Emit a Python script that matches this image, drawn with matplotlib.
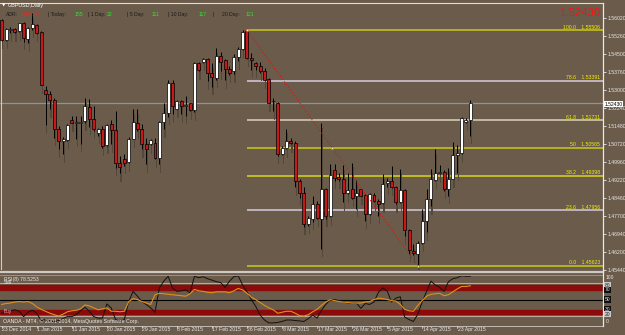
import matplotlib
matplotlib.use('Agg')
import matplotlib.pyplot as plt
from matplotlib.patches import Rectangle
from matplotlib.lines import Line2D

W, H = 625, 335
BG = '#6b5b4a'
FONT = 'Liberation Sans'

# ---------------- data ----------------
opens = [1.5594, 1.5510, 1.5551, 1.5555, 1.5549, 1.5580, 1.5514, 1.5559, 1.5573, 1.5541,
         1.5298, 1.5284, 1.5259, 1.5137, 1.5085, 1.5089, 1.5173, 1.5162, 1.5162, 1.5169,
         1.5229, 1.5179, 1.5120, 1.5137, 1.5067, 1.5155, 1.5131, 1.4992, 1.5009, 1.4996,
         1.5095, 1.5162, 1.5137, 1.5071, 1.5075, 1.5078, 1.5016, 1.5164, 1.5204, 1.5329,
         1.5220, 1.5252, 1.5231, 1.5243, 1.5215, 1.5413, 1.5419, 1.5429, 1.5373, 1.5350,
         1.5443, 1.5424, 1.5388, 1.5378, 1.5440, 1.5471, 1.5548, 1.5434, 1.5415, 1.5399,
         1.5378, 1.5346, 1.5252, 1.5246, 1.5029, 1.5057, 1.5085, 1.5078, 1.4918, 1.4869,
         1.4737, 1.4758, 1.4820, 1.4758, 1.4886, 1.4769, 1.4964, 1.4934, 1.4925, 1.4869,
         1.4883, 1.4853, 1.4883, 1.4858, 1.4779, 1.4858, 1.4834, 1.4825, 1.4908, 1.4918,
         1.4894, 1.4828, 1.4880, 1.4713, 1.4625, 1.4611, 1.4657, 1.4751, 1.4841, 1.4922,
         1.4950, 1.4955, 1.4883, 1.4928, 1.5025, 1.5034, 1.5166, 1.5172]
highs = [1.5598, 1.5559, 1.5566, 1.5559, 1.5582, 1.5587, 1.5566, 1.5623, 1.5577, 1.5548,
         1.5315, 1.5294, 1.5266, 1.5148, 1.5101, 1.5155, 1.5190, 1.5190, 1.5190, 1.5266,
         1.5262, 1.5231, 1.5141, 1.5148, 1.5155, 1.5172, 1.5210, 1.5021, 1.5029, 1.5103,
         1.5220, 1.5218, 1.5155, 1.5099, 1.5092, 1.5099, 1.5169, 1.5246, 1.5343, 1.5343,
         1.5259, 1.5259, 1.5273, 1.5246, 1.5419, 1.5419, 1.5434, 1.5434, 1.5413, 1.5475,
         1.5461, 1.5429, 1.5401, 1.5450, 1.5480, 1.5550, 1.55506, 1.5455, 1.5419, 1.5419,
         1.5392, 1.5350, 1.5266, 1.5249, 1.5064, 1.5137, 1.5099, 1.5085, 1.4925, 1.4891,
         1.4772, 1.4855, 1.4834, 1.5162, 1.4890, 1.4988, 1.4988, 1.4950, 1.4983, 1.4953,
         1.4995, 1.4922, 1.4886, 1.4862, 1.4869, 1.4866, 1.4841, 1.4946, 1.4932, 1.4981,
         1.4897, 1.4970, 1.4886, 1.4716, 1.4653, 1.4667, 1.4800, 1.4883, 1.4970, 1.5050,
         1.4983, 1.4964, 1.4974, 1.5081, 1.5067, 1.5187, 1.5184, 1.5259]
lows = [1.5506, 1.5507, 1.5538, 1.5538, 1.5541, 1.5503, 1.5496, 1.5552, 1.5535, 1.5319,
        1.5151, 1.5218, 1.5099, 1.5050, 1.5029, 1.5085, 1.5159, 1.5095, 1.5075, 1.5162,
        1.5145, 1.5127, 1.5106, 1.5057, 1.5064, 1.5071, 1.4974, 1.4950, 1.4981, 1.4992,
        1.5092, 1.5127, 1.5050, 1.4988, 1.5067, 1.5009, 1.4988, 1.5134, 1.5187, 1.5197,
        1.5218, 1.5197, 1.5192, 1.5210, 1.5206, 1.5378, 1.5413, 1.5336, 1.5312, 1.5343,
        1.5378, 1.5340, 1.5364, 1.5365, 1.5420, 1.5468, 1.5431, 1.5385, 1.5385, 1.5371,
        1.5340, 1.5243, 1.5210, 1.5022, 1.5025, 1.5050, 1.5071, 1.4891, 1.4848, 1.4724,
        1.4730, 1.4746, 1.4758, 1.4632, 1.4758, 1.4765, 1.4918, 1.4917, 1.4828, 1.4862,
        1.4844, 1.4800, 1.4853, 1.4751, 1.4774, 1.4828, 1.4772, 1.4820, 1.4894, 1.4890,
        1.4820, 1.4825, 1.4685, 1.4611, 1.4607, 1.45623, 1.4653, 1.4702, 1.4811, 1.4918,
        1.4946, 1.4876, 1.4855, 1.4925, 1.4953, 1.5029, 1.5163, 1.5106]
closes = [1.5510, 1.5555, 1.5553, 1.5545, 1.5580, 1.5517, 1.5559, 1.5577, 1.5538, 1.5322,
          1.5284, 1.5256, 1.5134, 1.5085, 1.5092, 1.5151, 1.5162, 1.5163, 1.5167, 1.5231,
          1.5176, 1.5134, 1.5137, 1.5064, 1.5151, 1.5131, 1.4992, 1.4978, 1.4995, 1.5095,
          1.5164, 1.5134, 1.5071, 1.5053, 1.5089, 1.5016, 1.5164, 1.5204, 1.5329, 1.5234,
          1.5255, 1.5234, 1.5238, 1.5215, 1.5413, 1.5385, 1.5429, 1.5373, 1.5354, 1.5443,
          1.5419, 1.5388, 1.5373, 1.5440, 1.5471, 1.5545, 1.5434, 1.5424, 1.5399, 1.5378,
          1.5343, 1.5246, 1.5254, 1.5029, 1.5057, 1.5085, 1.5078, 1.4918, 1.4869, 1.4737,
          1.4762, 1.4820, 1.4761, 1.4886, 1.4769, 1.4942, 1.4932, 1.4925, 1.4869, 1.4880,
          1.4848, 1.4866, 1.4855, 1.4779, 1.4862, 1.4834, 1.4823, 1.4904, 1.4918, 1.4894,
          1.4830, 1.4880, 1.4713, 1.4629, 1.4616, 1.4657, 1.4751, 1.4841, 1.4925, 1.4953,
          1.4955, 1.4883, 1.4928, 1.5025, 1.5034, 1.5183, 1.5172, 1.5243]

rsi_black = [22, 24, 27, 29, 26, 15, 24, 28, 22, 7,
             9, 7, 4, 7, 11, 15, 15, 19, 27, 34,
             26, 15, 12, 12, 41, 33, 9, 5, 9, 46,
             67, 57, 46, 40, 33, 24, 74, 88, 98, 74,
             67, 68, 70, 64, 98, 95, 97, 93, 90, 87,
             85, 75, 88, 97, 99, 80, 66, 50, 36, 18,
             8, 2, 2, 3, 5, 8, 8, 7, 6, 5,
             11, 18, 12, 28, 40, 50, 50, 48, 46, 43,
             43, 43, 32, 42, 40, 45, 65, 74, 68, 45,
             53, 56, 14, 9, 5, 20, 45, 67, 88, 80,
             75, 67, 87, 93, 95, 99, 98, 98]
rsi8 = [40, 42, 43, 45, 46, 45, 46, 42, 35, 30,
        26, 22, 19, 16, 20, 25, 27, 28, 31, 39,
        37, 33, 29, 31, 33, 26, 26, 25, 26, 46,
        52, 50, 46, 43, 40, 60, 63, 62, 61, 60,
        59, 58, 57, 62, 71, 68, 67, 65, 64, 66,
        66, 66, 64, 68, 73, 70, 63, 55, 50, 44,
        38, 33, 29, 22, 24, 26, 26, 22, 17, 16,
        19, 25, 30, 38, 45, 50, 48, 46, 45, 44,
        43, 43, 43, 45, 46, 50, 53, 52, 50, 48,
        47, 40, 30, 27, 26, 38, 48, 57, 61, 62,
        63, 58, 60, 66, 72, 77, 77, 78.5253]

date_ticks = [0, 8, 16, 24, 32, 40, 48, 56, 64, 72, 80, 88, 96, 104]
date_labels = ['23 Dec 2014', '1 Jan 2015', '11 Jan 2015', '20 Jan 2015', '29 Jan 2015',
               '8 Feb 2015', '17 Feb 2015', '26 Feb 2015', '8 Mar 2015', '17 Mar 2015',
               '26 Mar 2015', '5 Apr 2015', '14 Apr 2015', '23 Apr 2015']
price_ticks = [1.56020, 1.55260, 1.54500, 1.53760, 1.53000, 1.52240, 1.51480, 1.50720,
               1.49960, 1.49220, 1.48460, 1.47700, 1.46940, 1.46200, 1.45440]
fib_levels = ['100.0', '78.6', '61.8', '50', '38.2', '23.6', '0.0']
fib_prices = [1.55506, 1.53391, 1.51731, 1.50565, 1.49398, 1.47956, 1.45623]
fib_start_bar, fib_end_bar = 56, 95
current_price = 1.52430
rsi_levels = [80, 70, 50, 30, 20]
adr_segments = [('ADR:', 'k'), ('129.1%', 'r'), ('| Today:', 'k'), ('155', 'g'),
                ('| 1 Day:', 'k'), ('22', 'g'), ('| 5 Day:', 'k'), ('111', 'g'),
                ('| 10 Day:', 'k'), ('117', 'g'), ('|', 'k'), ('20 Day:', 'k'), ('121', 'g')]

# ---------------- figure ----------------
fig = plt.figure(figsize=(W / 100, H / 100), dpi=100, facecolor=BG)


def fx(x):
    return x / W


def fy(y):
    return 1 - y / H


x0_px, bar_px = 1.7, 4.38
right_px = 602.5
xlim = (-x0_px / bar_px, (right_px - x0_px) / bar_px)

# main price axes: pixel rows 4..270
ax = fig.add_axes([0, fy(270), fx(right_px), (270 - 4) / H])
ax.set_facecolor(BG)
ppx = 0.000418
ax.set_ylim(1.56773 - ppx * 270, 1.56773 - ppx * 4)
ax.set_xlim(*xlim)
for s in ax.spines.values():
    s.set_visible(False)
ax.set_xticks([])
ax.yaxis.tick_right()
ax.set_yticks(price_ticks)
ax.set_yticklabels(['%.5f' % p for p in price_ticks])
ax.tick_params(axis='y', length=2, width=0.6, color='#e8e8e8', pad=1.5,
               labelsize=3.7, labelcolor='#e8e8e8')
for lab in ax.get_yticklabels():
    lab.set_fontfamily(FONT)

# current price line
ax.axhline(current_price, color='#8a93a6', lw=0.9, zorder=1)

# fib levels
fib_colors = ['#c8c81a', '#d8cce0', '#d8d4b8', '#c8c81a', '#d8d81a', '#d4cce0', '#c8c81a']
for lvl, p, c in zip(fib_levels, fib_prices, fib_colors):
    ax.plot([fib_start_bar, xlim[1]], [p, p], color=c, lw=1.1, zorder=2, solid_capstyle='butt')
    ax.text(xlim[1] - 0.6, p + 0.0002, '%s    %.5f' % (lvl, p), color='#f0f000',
            fontsize=3.7, family=FONT, ha='right', va='bottom', zorder=6)

# fib base line
ax.plot([fib_start_bar, fib_end_bar], [fib_prices[0], fib_prices[-1]], color='#e01010',
        lw=0.8, ls=(0, (1, 2)), zorder=5)
mid_bar = (fib_start_bar + fib_end_bar) / 2
ax.plot([fib_start_bar, mid_bar, fib_end_bar], [fib_prices[0], fib_prices[3], fib_prices[-1]],
        ls='none', marker='s', ms=2, mfc='#fff8c0', mec='#e05020', mew=0.4, zorder=7)

# candle shadows
for i, (o, h, l, c) in enumerate(zip(opens, highs, lows, closes)):
    ax.add_patch(Rectangle((i + 0.12, l - 0.0035), 0.28, (h - l) + 0.0015,
                           facecolor='#54483b', edgecolor='none', zorder=2.5))

# candles
for i, (o, h, l, c) in enumerate(zip(opens, highs, lows, closes)):
    ax.vlines(i, l, h, color='black', lw=0.7, zorder=3)
    bot, top = min(o, c), max(o, c)
    hgt = max(top - bot, 0.0003)
    col = 'white' if c >= o else '#c81818'
    ax.add_patch(Rectangle((i - 0.34, bot), 0.68, hgt, facecolor=col,
                           edgecolor='black', lw=0.5, zorder=4))

# left vertical line
ax.axvline(-0.2, ymin=0, ymax=(1.56773 - ppx * 40 - ax.get_ylim()[0]) /
           (ax.get_ylim()[1] - ax.get_ylim()[0]), color='#d8ccb8', lw=0.8, zorder=1)

# ---------------- RSI axes: pixel rows 274..325 ----------------
ax2 = fig.add_axes([0, fy(325), fx(right_px), (325 - 274) / H])
ax2.set_facecolor(BG)
rpx = 0.486
ax2.set_ylim((323.9 - 325) / rpx, (323.9 - 274) / rpx)
ax2.set_xlim(*xlim)
for s in ax2.spines.values():
    s.set_visible(False)
ax2.set_xticks([])
ax2.set_yticks([])
ax2.axhspan(70.5, 80.5, color='#8c0a0a', zorder=1)
ax2.axhspan(19.5, 29.5, color='#8c0a0a', zorder=1)
ax2.axhline(83.5, color='#b8aca0', lw=0.8, zorder=1)
ax2.axhline(16.5, color='#b8aca0', lw=0.8, zorder=1)
ax2.axhline(50, color='black', lw=0.8, zorder=1)
bars = list(range(len(rsi8)))
ax2.plot(bars, rsi_black, color='#111111', lw=0.7, zorder=3)
ax2.plot(bars, rsi8, color='#e0901a', lw=0.8, zorder=4)

# ---------------- frame lines ----------------
def hline(y, x1, x2, c, lw):
    fig.add_artist(Line2D([fx(x1), fx(x2)], [fy(y), fy(y)], color=c, lw=lw))


def vline(x, y1, y2, c, lw):
    fig.add_artist(Line2D([fx(x), fx(x)], [fy(y1), fy(y2)], color=c, lw=lw))

hline(2.5, 0, right_px, '#e0dcd8', 0.8)
hline(272.3, 0, right_px, '#cfc9c3', 1.6)
hline(275.0, 0, right_px, '#a89c90', 0.6)
hline(325.5, 0, right_px, '#cfc9c3', 0.6)
vline(right_px, 2.5, 326, '#e8e8e8', 0.9)


def ftext(x, y, s, **kw):
    kw.setdefault('family', FONT)
    kw.setdefault('va', 'center')
    return fig.text(fx(x), fy(y), s, **kw)

# header
ftext(2, 5.6, '\u25bc', color='white', fontsize=3.2, family='DejaVu Sans')
ftext(8, 5.6, 'GBPUSD,Daily', color='white', fontsize=3.9)
seg_colors = {'k': '#1a1a1a', 'r': '#ff2020', 'g': '#22ee22'}
seg_x = [6, 22.5, 48.5, 75, 88, 106.5, 127.5, 152, 167.5, 199, 212.5, 221.5, 245.5]
for x, (s, c) in zip(seg_x, adr_segments):
    ftext(x, 14.2, s, color=seg_colors[c], fontsize=3.7)

ftext(600.5, 12.5, '%.5f' % current_price, color='#ff1010', fontsize=8.2, ha='right')

# current price box on axis
ftext(604.5, 104.0, '%.5f' % current_price, color='black', fontsize=3.6,
      bbox=dict(boxstyle='square,pad=0.15', fc='white', ec='none'))

# RSI texts
ftext(3.5, 279.2, 'RSI(8) %.4f' % rsi8[-1], color='#e8e8e8', fontsize=3.7)
ftext(3.5, 282.8, 'Sell', color='#f0f0f0', fontsize=3.4)
ftext(3.5, 311.0, 'Buy', color='#ffb0b0', fontsize=3.4)
ftext(3.0, 320.8, 'OANDA - MT4, \u00a9 2001-2014, MetaQuotes Software Corp.', color='#ececec',
      fontsize=3.8)

# RSI scale labels
ftext(605.5, 277.3, '100', color='#e8e8e8', fontsize=3.6)
ftext(605.5, 321.8, '0', color='#e8e8e8', fontsize=3.6)
for v in rsi_levels:
    ypix = 323.9 - rpx * v
    light = v in (80, 20)
    ftext(604.5, ypix, '%d' % v, color='#202020' if light else '#e0e0e0', fontsize=3.6,
          bbox=dict(boxstyle='square,pad=0.15', fc='#c8c8c8' if light else '#101010', ec='none'))

# date labels
for b, s in zip(date_ticks, date_labels):
    xp = x0_px + b * bar_px
    vline(xp, 326, 328, '#e0e0e0', 0.5)
    ftext(xp + 0.5, 329.3, s, color='#e8e8e8', fontsize=3.7, ha='left')

fig.savefig('out.png', dpi=100, facecolor=BG)
